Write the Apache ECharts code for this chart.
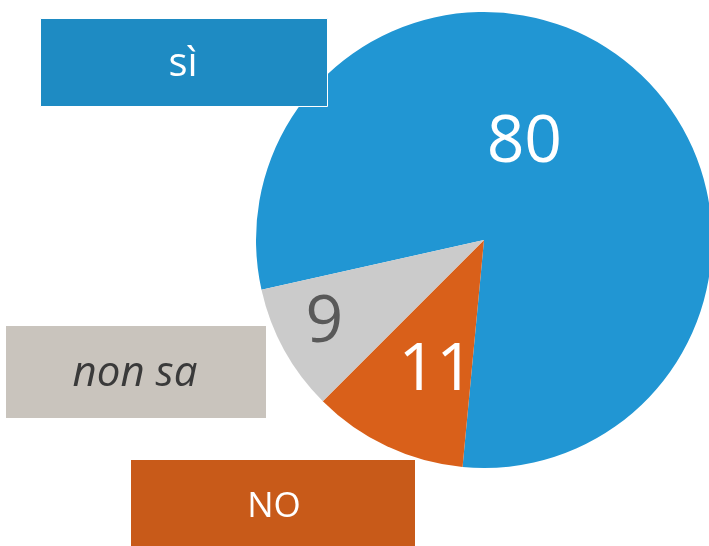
<!DOCTYPE html>
<html>
<head>
<meta charset="utf-8">
<script src="https://cdn.jsdelivr.net/npm/echarts@6/dist/echarts.min.js"></script>
<style>
  html, body { margin: 0; padding: 0; background: #fff; }
  #main { width: 709px; height: 546px; }
</style>
</head>
<body>
<div id="main"></div>
<script>
// dati del grafico
var categories = ['sì', 'NO', 'non sa'];
var values = [80, 11, 9];
var sliceColors = ['#2196d3', '#d9601a', '#cbcbcb'];
var labelColors = ['#ffffff', '#ffffff', '#595959'];
var boxColors = ['#1e8bc3', '#c85a19', '#c9c4bd'];

var chart = echarts.init(document.getElementById('main'));

// spostamento delle etichette dentro le fette
var labelShift = [[-37, -9], [2, 25], [-57, 27]];

var option = {
  animation: false,
  textStyle: { fontFamily: 'Open Sans' },
  series: [{
    type: 'pie',
    center: [484, 240],
    radius: [0, 228],
    startAngle: 192.6,
    clockwise: true,
    silent: true,
    label: {
      show: true,
      position: 'inside',
      fontSize: 66,
      fontFamily: 'Open Sans',
      formatter: '{c}'
    },
    labelLine: { show: false },
    labelLayout: function (p) {
      return { dx: labelShift[p.dataIndex][0], dy: labelShift[p.dataIndex][1] };
    },
    data: categories.map(function (c, i) {
      return {
        name: c,
        value: values[i],
        itemStyle: { color: sliceColors[i] },
        label: { color: labelColors[i] }
      };
    })
  }],
  graphic: [
    {
      type: 'rect', left: 40, top: 18, z: 10,
      shape: { width: 287, height: 88 },
      style: { fill: boxColors[0], stroke: '#ffffff', lineWidth: 1 }
    },
    {
      type: 'text', z: 11, x: 183, y: 65,
      style: { text: categories[0], fill: '#fff', font: '40px "Open Sans"', align: 'center', verticalAlign: 'middle' }
    },
    {
      type: 'rect', left: 6, top: 326, z: 10,
      shape: { width: 260, height: 92 },
      style: { fill: boxColors[2] }
    },
    {
      type: 'text', z: 11, x: 135, y: 374,
      style: { text: categories[2], fill: '#3a3a3a', font: 'italic 42px "Open Sans"', align: 'center', verticalAlign: 'middle' }
    },
    {
      type: 'rect', left: 131, top: 460, z: 10,
      shape: { width: 284, height: 90 },
      style: { fill: boxColors[1] }
    },
    {
      type: 'text', z: 11, x: 274, y: 507,
      style: { text: categories[1], fill: '#fff', font: '35px "Open Sans"', align: 'center', verticalAlign: 'middle' }
    }
  ]
};

chart.setOption(option);
</script>
</body>
</html>
